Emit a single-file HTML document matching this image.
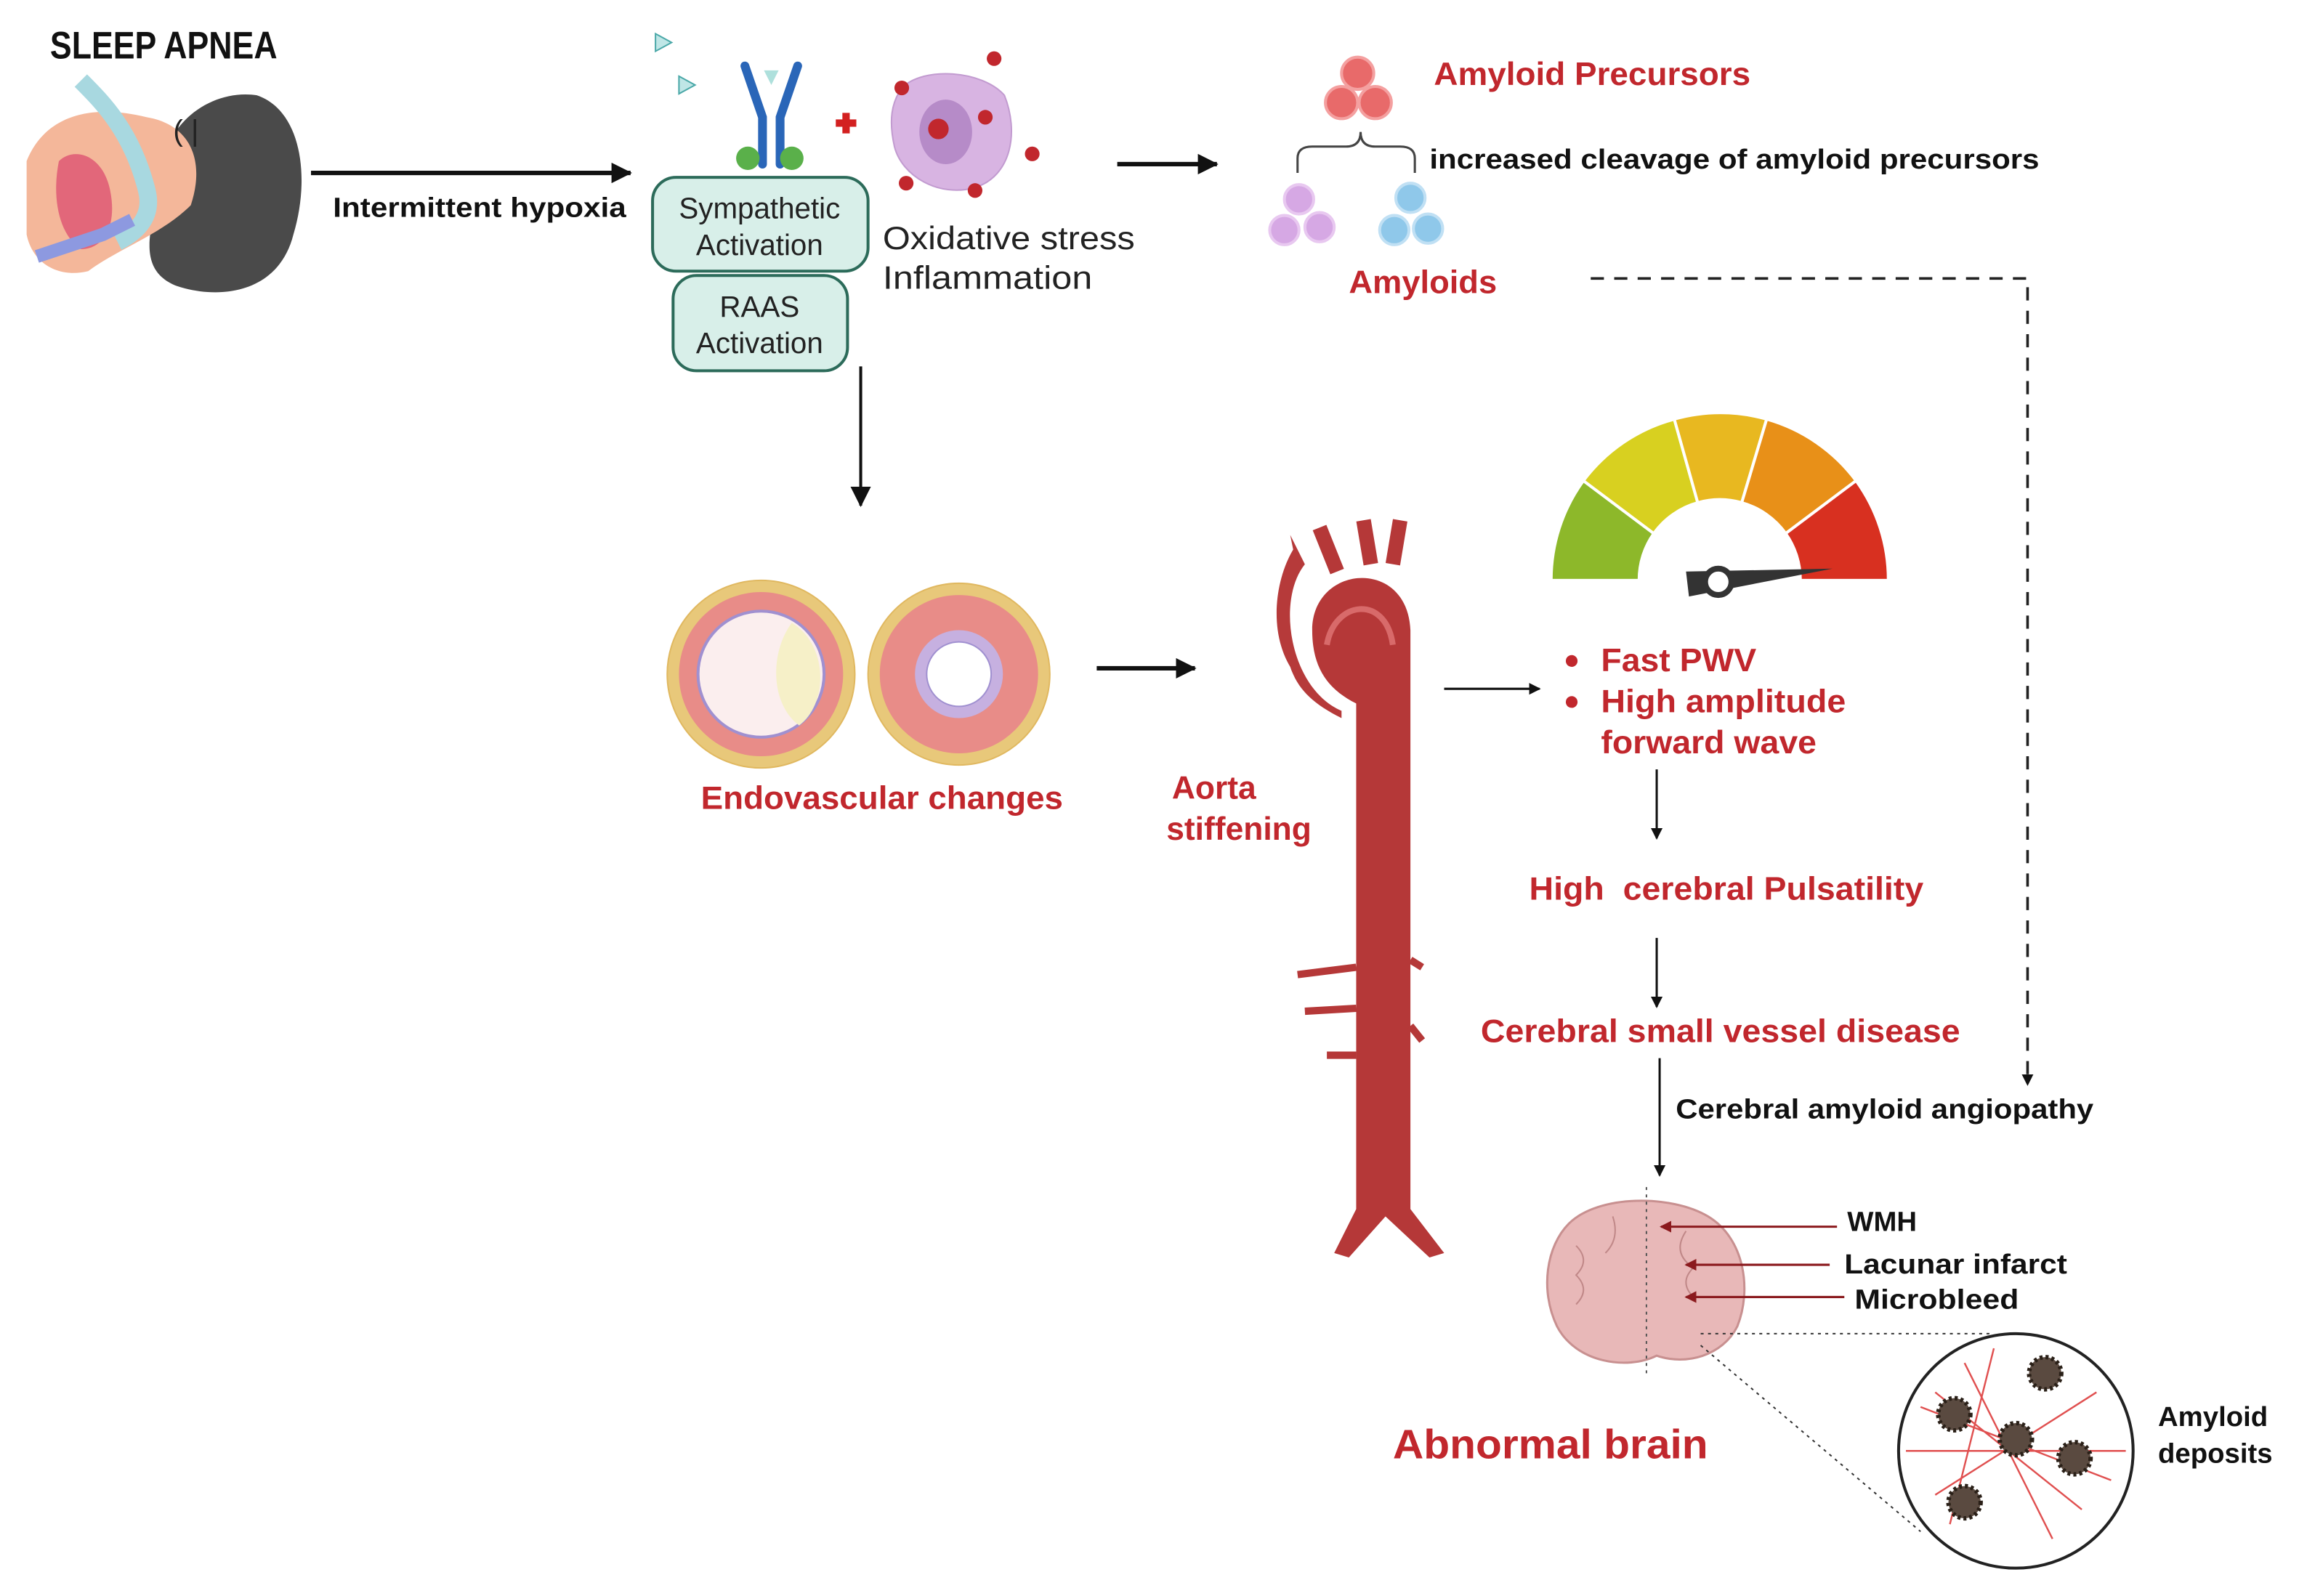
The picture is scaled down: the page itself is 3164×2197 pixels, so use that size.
<!DOCTYPE html>
<html><head><meta charset="utf-8"><style>
html,body{margin:0;padding:0;background:#fff;}
svg{display:block;}
text{font-family:"Liberation Sans",sans-serif;}
.b{font-weight:bold;}
.r{fill:#c1272d;font-weight:bold;}
</style></head><body>
<svg width="3164" height="2197" viewBox="0 0 1568 1089" xmlns="http://www.w3.org/2000/svg">
<defs>
<marker id="ah" markerWidth="8" markerHeight="8" refX="7" refY="4" orient="auto" markerUnits="userSpaceOnUse"><path d="M0,0 L8,4 L0,8 z" fill="#111"/></marker>
<marker id="ahb" markerWidth="14" markerHeight="14" refX="13" refY="7" orient="auto" markerUnits="userSpaceOnUse"><path d="M0,0 L14,7 L0,14 z" fill="#111"/></marker>
<marker id="ahr" markerWidth="8" markerHeight="8" refX="1" refY="4" orient="auto" markerUnits="userSpaceOnUse"><path d="M8,0 L0,4 L8,8 z" fill="#8b1a1e"/></marker>
</defs>
<rect width="1568" height="1089" fill="#fff"/>

<!-- Sleep apnea -->
<text x="34" y="40" font-size="26" class="b" textLength="155" lengthAdjust="spacingAndGlyphs" fill="#111">SLEEP APNEA</text>
<path d="M110,130 C105,90 140,60 175,65 C205,75 212,120 200,160 C190,200 150,205 120,195 C95,185 100,160 110,130z" fill="#4a4a4a"/>
<path d="M18,110 C30,80 60,70 100,80 C130,85 140,110 130,140 C110,160 80,170 60,185 C40,190 22,180 18,160z" fill="#f4b79a"/>
<path d="M40,110 C50,100 70,105 75,130 C80,155 70,170 55,170 C40,160 35,135 40,110z" fill="#e2677a"/>
<path d="M55,55 C70,70 90,90 100,130 C105,150 90,160 80,165" stroke="#a8d8e0" stroke-width="12" fill="none"/>
<path d="M25,175 L70,160 L90,150" stroke="#8d99e0" stroke-width="9" fill="none"/>
<text x="118" y="96" font-size="20" fill="#222">( |</text>

<line x1="212" y1="118" x2="430" y2="118" stroke="#111" stroke-width="3" marker-end="url(#ahb)"/>
<text x="227" y="148" font-size="19" class="b" fill="#111" textLength="200" lengthAdjust="spacingAndGlyphs">Intermittent hypoxia</text>

<!-- antibody -->
<path d="M447,23 L458,29 L447,35z M463,52 L474,58 L463,64z" fill="#bfe6e6" stroke="#4aa8a8"/>
<path d="M508,45 L520,80 L520,112 M544,45 L532,80 L532,112" stroke="#2a66b8" stroke-width="6" fill="none" stroke-linecap="round"/>
<path d="M521,48 L531,48 L526,58z" fill="#aee0dc"/>
<ellipse cx="510" cy="108" rx="8" ry="8" fill="#5ab04a"/><ellipse cx="540" cy="108" rx="8" ry="8" fill="#5ab04a"/>
<path d="M570,84 h14 M577,77 v14" stroke="#d32020" stroke-width="5"/>
<path d="M615,60 C630,45 670,48 685,65 C695,90 690,120 665,128 C640,135 615,120 610,100 C606,82 608,70 615,60z" fill="#d8b4e2" stroke="#c29bd0"/>
<ellipse cx="645" cy="90" rx="18" ry="22" fill="#b68bc8"/>
<g fill="#c1272d"><circle cx="640" cy="88" r="7"/><circle cx="678" cy="40" r="5"/><circle cx="615" cy="60" r="5"/><circle cx="672" cy="80" r="5"/><circle cx="704" cy="105" r="5"/><circle cx="618" cy="125" r="5"/><circle cx="665" cy="130" r="5"/></g>

<rect x="445" y="121" width="147" height="64" rx="16" fill="#d8efe9" stroke="#2c6b5a" stroke-width="2"/>
<text x="518" y="149" font-size="20" text-anchor="middle" fill="#222">Sympathetic</text>
<text x="518" y="174" font-size="20" text-anchor="middle" fill="#222">Activation</text>
<rect x="459" y="188" width="119" height="65" rx="16" fill="#d8efe9" stroke="#2c6b5a" stroke-width="2"/>
<text x="518" y="216" font-size="20" text-anchor="middle" fill="#222">RAAS</text>
<text x="518" y="241" font-size="20" text-anchor="middle" fill="#222">Activation</text>
<text x="602" y="170" font-size="22" fill="#222" textLength="172" lengthAdjust="spacingAndGlyphs">Oxidative stress</text>
<text x="602" y="197" font-size="22" fill="#222" textLength="143" lengthAdjust="spacingAndGlyphs">Inflammation</text>

<line x1="762" y1="112" x2="830" y2="112" stroke="#111" stroke-width="3" marker-end="url(#ahb)"/>

<!-- amyloid -->
<g fill="#e86a6a" stroke="#f4a0a0" stroke-width="2"><circle cx="926" cy="50" r="11"/><circle cx="915" cy="70" r="11"/><circle cx="938" cy="70" r="11"/></g>
<text x="978" y="58" font-size="22" class="r" textLength="216" lengthAdjust="spacingAndGlyphs">Amyloid Precursors</text>
<path d="M885,118 V108 Q885,100 895,100 H918 Q928,100 928,90 Q928,100 938,100 H955 Q965,100 965,108 V118" stroke="#444" stroke-width="1.5" fill="none"/>
<text x="975" y="115" font-size="19" class="b" fill="#111" textLength="416" lengthAdjust="spacingAndGlyphs">increased cleavage of amyloid precursors</text>
<g fill="#d6a8e4" stroke="#e8c8f0" stroke-width="2"><circle cx="886" cy="136" r="10"/><circle cx="876" cy="157" r="10"/><circle cx="900" cy="155" r="10"/></g>
<g fill="#8fc8ea" stroke="#c0e0f4" stroke-width="2"><circle cx="962" cy="135" r="10"/><circle cx="951" cy="157" r="10"/><circle cx="974" cy="156" r="10"/></g>
<text x="920" y="200" font-size="22" class="r" textLength="101" lengthAdjust="spacingAndGlyphs">Amyloids</text>
<path d="M1085,190 H1383 V740" stroke="#222" stroke-width="1.8" stroke-dasharray="9,7" fill="none" marker-end="url(#ah)"/>

<line x1="587" y1="250" x2="587" y2="345" stroke="#111" stroke-width="2" marker-end="url(#ahb)"/>

<!-- vessels -->
<circle cx="519" cy="460" r="64" fill="#e8c87a" stroke="#e0b860"/>
<circle cx="519" cy="460" r="56" fill="#e88c88"/>
<circle cx="519" cy="460" r="43" fill="#fbeeee" stroke="#a090d0" stroke-width="2"/>
<path d="M540,425 C525,445 525,480 545,495 C565,480 565,440 540,425z" fill="#f6f0c8"/>
<circle cx="654" cy="460" r="62" fill="#e8c87a" stroke="#e0b860"/>
<circle cx="654" cy="460" r="54" fill="#e88c88"/>
<circle cx="654" cy="460" r="30" fill="#c6b0e0"/>
<circle cx="654" cy="460" r="22" fill="#fff" stroke="#a090d0"/>
<text x="478" y="552" font-size="22" class="r" textLength="247" lengthAdjust="spacingAndGlyphs">Endovascular changes</text>
<line x1="748" y1="456" x2="815" y2="456" stroke="#111" stroke-width="3" marker-end="url(#ahb)"/>

<!-- aorta -->
<path d="M880,365 L890,385 C870,410 880,470 915,485 L915,490 C895,480 885,470 880,455 C865,430 870,395 882,375z" fill="#b63a3a"/>
<path d="M895,430 C895,385 960,380 962,430 L962,825 L985,855 L975,858 L945,830 L920,858 L910,855 L925,825 L925,480 C905,470 895,455 895,430z" fill="#b53838"/>
<path d="M900,360 L912,390 M930,355 L935,385 M955,355 L950,385" stroke="#b53838" stroke-width="10"/>
<path d="M905,440 C910,410 945,405 950,440" stroke="#d86a6a" stroke-width="4" fill="none"/>
<path d="M885,665 L925,660 M962,655 L970,660 M890,690 L925,688 M962,700 L970,710 M905,720 L925,720" stroke="#b53838" stroke-width="5"/>
<text x="828" y="545" font-size="22" class="r" text-anchor="middle">Aorta</text>
<text x="845" y="573" font-size="22" class="r" text-anchor="middle">stiffening</text>

<!-- gauge -->
<g stroke="#fff" stroke-width="2">
<path d="M1058,396 A115,115 0 0 1 1080,328 L1128,364 A55,55 0 0 0 1118,396z" fill="#8db82a"/>
<path d="M1080,328 A115,115 0 0 1 1142,286 L1158,343 A55,55 0 0 0 1128,364z" fill="#d8d020"/>
<path d="M1142,286 A115,115 0 0 1 1205,286 L1188,343 A55,55 0 0 0 1158,343z" fill="#e8b820"/>
<path d="M1205,286 A115,115 0 0 1 1266,328 L1218,364 A55,55 0 0 0 1188,343z" fill="#e89018"/>
<path d="M1266,328 A115,115 0 0 1 1288,396 L1228,396 A55,55 0 0 0 1218,364z" fill="#d83020"/>
</g>
<path d="M1150,390 L1250,388 L1152,407z" fill="#333"/>
<circle cx="1172" cy="397" r="9" fill="#fff" stroke="#333" stroke-width="4"/>

<line x1="985" y1="470" x2="1050" y2="470" stroke="#111" stroke-width="1.5" marker-end="url(#ah)"/>
<circle cx="1072" cy="451" r="4" fill="#c1272d"/><circle cx="1072" cy="479" r="4" fill="#c1272d"/>
<text x="1092" y="458" font-size="22" class="r" textLength="106" lengthAdjust="spacingAndGlyphs">Fast PWV</text>
<text x="1092" y="486" font-size="22" class="r" textLength="167" lengthAdjust="spacingAndGlyphs">High amplitude</text>
<text x="1092" y="514" font-size="22" class="r" textLength="147" lengthAdjust="spacingAndGlyphs">forward wave</text>
<line x1="1130" y1="525" x2="1130" y2="572" stroke="#111" stroke-width="1.5" marker-end="url(#ah)"/>
<text x="1043" y="614" font-size="22" class="r" xml:space="preserve" textLength="269" lengthAdjust="spacingAndGlyphs">High  cerebral Pulsatility</text>
<line x1="1130" y1="640" x2="1130" y2="687" stroke="#111" stroke-width="1.5" marker-end="url(#ah)"/>
<text x="1010" y="711" font-size="22" class="r" textLength="327" lengthAdjust="spacingAndGlyphs">Cerebral small vessel disease</text>
<line x1="1132" y1="722" x2="1132" y2="802" stroke="#111" stroke-width="1.5" marker-end="url(#ah)"/>
<text x="1143" y="763" font-size="19" class="b" fill="#111" textLength="285" lengthAdjust="spacingAndGlyphs">Cerebral amyloid angiopathy</text>

<!-- brain -->
<path d="M1070,835 C1090,815 1140,815 1165,830 C1190,845 1195,880 1185,905 C1175,925 1150,932 1130,925 C1110,935 1075,930 1062,905 C1050,880 1055,850 1070,835z" fill="#e8b8b8" stroke="#c89090" stroke-width="1.5"/>
<path d="M1075,850 q10,10 0,20 q10,10 0,20 M1100,830 q5,15 -5,25 M1150,840 q-10,15 5,25 q-10,10 0,20" stroke="#c08888" fill="none"/>
<line x1="1123" y1="810" x2="1123" y2="937" stroke="#555" stroke-dasharray="2,3"/>
<line x1="1133" y1="837" x2="1253" y2="837" stroke="#8b1a1e" stroke-width="1.5" marker-start="url(#ahr)"/>
<line x1="1150" y1="863" x2="1248" y2="863" stroke="#8b1a1e" stroke-width="1.5" marker-start="url(#ahr)"/>
<line x1="1150" y1="885" x2="1258" y2="885" stroke="#8b1a1e" stroke-width="1.5" marker-start="url(#ahr)"/>
<text x="1260" y="840" font-size="19" class="b" fill="#111">WMH</text>
<text x="1258" y="869" font-size="19" class="b" fill="#111" textLength="152" lengthAdjust="spacingAndGlyphs">Lacunar infarct</text>
<text x="1265" y="893" font-size="19" class="b" fill="#111" textLength="112" lengthAdjust="spacingAndGlyphs">Microbleed</text>
<text x="950" y="995" font-size="28" class="r" textLength="215" lengthAdjust="spacingAndGlyphs">Abnormal brain</text>
<line x1="1160" y1="910" x2="1360" y2="910" stroke="#333" stroke-dasharray="2,3"/>
<line x1="1160" y1="918" x2="1310" y2="1045" stroke="#333" stroke-dasharray="2,3"/>
<circle cx="1375" cy="990" r="80" fill="#fff" stroke="#222" stroke-width="2"/>
<g stroke="#e05050" stroke-width="1.2" fill="none">
<path d="M1310,960 L1440,1010 M1320,1020 L1430,950 M1340,930 L1400,1050 M1300,990 L1450,990 M1360,920 L1330,1040 M1320,950 L1420,1030"/>
</g>
<g fill="#5a4a40" stroke="#2a2018" stroke-width="3" stroke-dasharray="2,2">
<circle cx="1395" cy="937" r="11"/><circle cx="1333" cy="965" r="11"/><circle cx="1375" cy="982" r="11"/><circle cx="1415" cy="995" r="11"/><circle cx="1340" cy="1025" r="11"/>
</g>
<text x="1472" y="973" font-size="19" class="b" fill="#111">Amyloid</text>
<text x="1472" y="998" font-size="19" class="b" fill="#111">deposits</text>
</svg>
</body></html>
